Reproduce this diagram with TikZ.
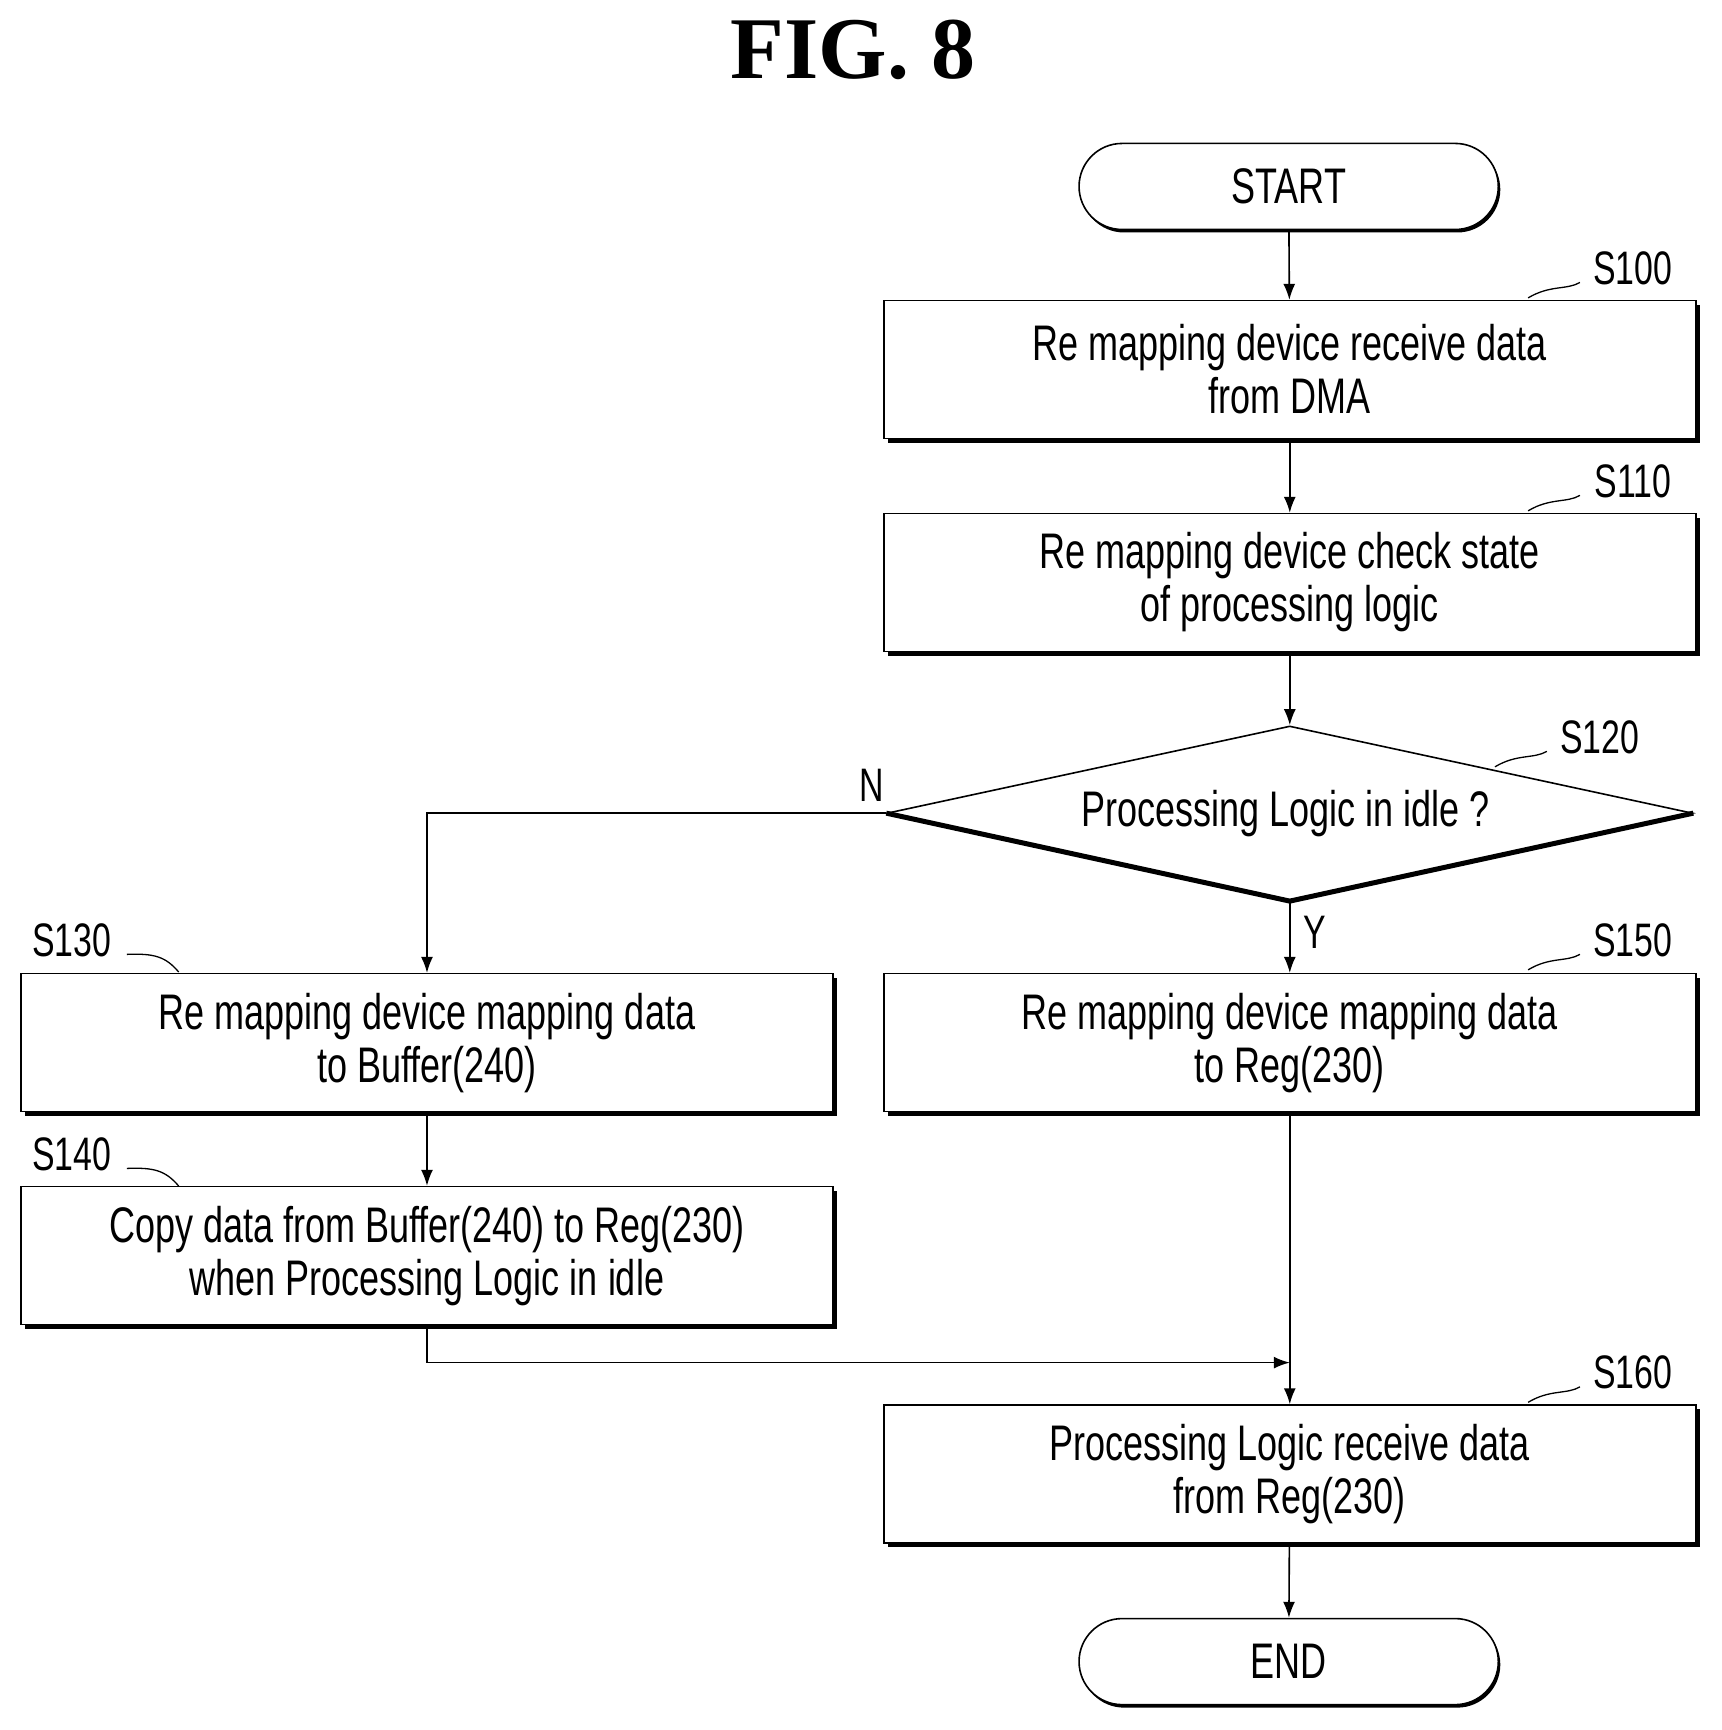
\documentclass[tikz,border=0pt]{standalone}
\usepackage{fontspec}
\setmainfont{Liberation Sans}[FakeStretch=0.72]
\newfontfamily\titlefont{Liberation Serif}
\usetikzlibrary{shapes.geometric,shadows,arrows.meta}
\begin{document}
\begin{tikzpicture}[x=1.1032pt,y=-1.1032pt,
  box/.style={draw,line width=1.6pt,fill=white,minimum width=736*1.1032pt,minimum height=125*1.1032pt,align=center,font=\fontsize{50}{53}\selectfont,inner sep=0pt,
    drop shadow={shadow xshift=4pt,shadow yshift=-4pt,fill=black,opacity=1}},
  pill/.style={draw,line width=1.6pt,fill=white,rounded corners=39*1.1032pt,minimum width=380*1.1032pt,minimum height=78*1.1032pt,font=\fontsize{50}{53}\selectfont,
    drop shadow={shadow xshift=2pt,shadow yshift=-3pt,fill=black,opacity=1}},
  lab/.style={font=\fontsize{47}{50}\selectfont,inner sep=0pt},
  arr/.style={line width=1.6pt,-{Latex[length=16pt,width=12pt]}},
  ln/.style={line width=1.6pt}]
\useasboundingbox (0,0) rectangle (1560,1568);
\node[font=\titlefont\bfseries\fontsize{88}{90}\selectfont] (title) at (773,45) {FIG. 8};
\node[pill] (start) at (1168,169) {START};
\node[box] (s100) at (1169,335) {Re mapping device receive data\\from DMA};
\node[box] (s110) at (1169,528) {Re mapping device check state\\of processing logic};
\node[draw,diamond,line width=1.6pt,minimum width=730*1.1032pt,minimum height=158*1.1032pt,aspect=4.6,inner sep=0pt] (s120) at (1169,737) {};
\draw[line width=5pt] (s120.west) -- (s120.south) -- (s120.east);
\node[font=\fontsize{50}{53}\selectfont] at (1165,737) {Processing Logic in idle ?};
\node[box] (s130) at (387,945) {Re mapping device mapping data\\to Buffer(240)};
\node[box] (s140) at (387,1138) {Copy data from Buffer(240) to Reg(230)\\when Processing Logic in idle};
\node[box] (s150) at (1169,945) {Re mapping device mapping data\\to Reg(230)};
\node[box] (s160) at (1169,1336) {Processing Logic receive data\\from Reg(230)};
\node[pill] (end) at (1168,1506) {END};
\coordinate (j) at (1169,1235);
\coordinate (n) at (387,737);
\draw[arr] (start) -- (s100);
\draw[arr] (s100) -- (s110);
\draw[arr] (s110) -- (s120);
\draw[arr] (s120.west) -- (n) -- (s130);
\draw[arr] (s120.south) -- (s150);
\draw[arr] (s130) -- (s140);
\draw[ln] (s150) -- (j);
\draw[arr] (s140.south) |- (j);
\draw[arr] (j) -- (s160);
\draw[arr] (s160) -- (end);
\node[lab] (ln) at (790,712) {N};
\node[lab] (ly) at (1192,845) {Y};
\foreach \n/\x/\y in {S100/1480/243,S110/1480/436,S120/1450/668,S150/1480/852,S160/1480/1244}{
  \node[lab] (l\n) at (\x,\y) {\n};
  \draw[line width=1.3pt] (\x-95,\y+27) .. controls (\x-75,\y+15) and (\x-60,\y+20) .. (\x-48,\y+13);
}
\foreach \n/\x/\y in {S130/65/852,S140/65/1046}{
  \node[lab] (l\n) at (\x,\y) {\n};
  \draw[line width=1.3pt] (\x+50,\y+13) .. controls (\x+75,\y+12) and (\x+85,\y+15) .. (\x+97,\y+29);
}
\end{tikzpicture}
\end{document}
